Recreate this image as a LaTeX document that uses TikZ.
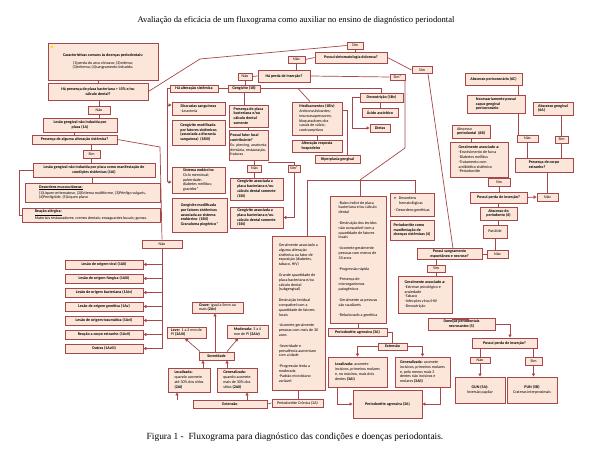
\documentclass[tikz,border=0pt]{standalone}
\usepackage{fontspec}
\usepackage{tikz}
\usetikzlibrary{arrows.meta}
\setmainfont{Liberation Serif}
\newfontfamily\flxfamily{Carlito}
\newcommand{\flxfont}{\flxfamily\fontsize{4}{4.8}\selectfont}
\definecolor{bxline}{HTML}{A5474B}
\definecolor{bxfill}{HTML}{FCE6DA}

\begin{document}
\begin{tikzpicture}[x=1pt,y=1pt,yscale=-1,xscale=1,
  bx/.style={draw=bxline,fill=bxfill,line width=0.9pt,inner sep=1pt,align=center,font=\flxfont},
  bxl/.style={bx,align=left},
  ln/.style={draw=bxline,line width=0.7pt},
  arr/.style={ln,-{Triangle[length=3pt,width=3.2pt]}}]
\path[fill=white,use as bounding box] (0,0) rectangle (592,449);

% Title and caption
\node[font=\fontsize{8.6}{10}\selectfont] (titulo) at (296,20) {Avaliação da eficácia de um fluxograma como auxiliar no ensino de diagnóstico periodontal};
\node[font=\fontsize{9.4}{11}\selectfont] (legenda) at (295,437) {Figura 1 -\ \ Fluxograma para diagnóstico das condições e doenças periodontais.};

% Left column
\node[bx,minimum width=110pt,minimum height=37pt] (car) at (103,61.5) {\textbf{Características comuns às doenças periodontais:}\\[3pt] (1)perda do arco côncavo; (2)edema;\\ (3)eritema; (4)sangramento induzido.};
\fill[yellow!85!orange] (52,47) circle (1.6pt);
\node[bx,minimum width=100pt,minimum height=17pt] (placa) at (98,91.5) {\textbf{Há presença de placa bacteriana > 15\% e/ou}\\ \textbf{cálculo dental?}};
\node[bx,minimum width=22pt,minimum height=8pt] (nao1) at (99,110) {Não};
\node[bx,minimum width=74pt,minimum height=14pt] (lesao1a) at (80,125) {\textbf{Lesão gengival não induzida por}\\ \textbf{placa (1A)}};
\node[bx,minimum width=85pt,minimum height=9pt] (presalt) at (74.5,139.5) {\textbf{Presença de alguma alteração sistêmica?}};
\node[bx,minimum width=17pt,minimum height=8pt] (sim1) at (91.5,154) {Sim};
\node[bx,minimum width=122pt,minimum height=14pt] (lesmanif) at (94,170) {\textbf{Lesão gengival não induzida por placa como manifestação de}\\ \textbf{condições sistêmicas (1Ai)}};
\node[bxl,minimum width=135pt,minimum height=19pt] (desord) at (92.5,192.5) {\underline{\textbf{Desordens mucocutâneas:}}\\ (1)Líquen eritematoso, (2)Eritema multiforme, (3)Pênfigo vulgaris,\\ (4)Penfigóide, (5)Líquen plano};
\node[bxl,minimum width=138pt,minimum height=14pt] (reacao) at (91,215) {\underline{\textbf{Reação alérgica:}}\\ Materiais restauradores; cremes dentais; enxaguantes bucais; gomas.};
\node[bx,minimum width=40pt,minimum height=8pt] (nao2) at (162,244) {Não};
\node[bx,minimum width=78pt,minimum height=9pt] (les1) at (104,264.5) {\textbf{Lesão de origem viral (1Aii)}};
\node[bx,minimum width=78pt,minimum height=9pt] (les2) at (104,278.5) {\textbf{Lesão de origem fúngica (1Aiii)}};
\node[bx,minimum width=78pt,minimum height=9pt] (les3) at (104,292.5) {\textbf{Lesão de origem bacteriana (1Aiv)}};
\node[bx,minimum width=78pt,minimum height=9pt] (les4) at (104,306.5) {\textbf{Lesão de origem genética (1Av)}};
\node[bx,minimum width=78pt,minimum height=9pt] (les5) at (104,320.5) {\textbf{Lesão de origem traumática (1Avi)}};
\node[bx,minimum width=78pt,minimum height=9pt] (les6) at (104,334.5) {\textbf{Reação a corpo estranho (1Avii)}};
\node[bx,minimum width=78pt,minimum height=9pt] (les7) at (104,348.5) {\textbf{Outras (1Aviii)}};

% Top decisions
\node[bx,minimum width=16pt,minimum height=7pt] (simtop) at (355,45.5) {Sim};
\node[bx,minimum width=72pt,minimum height=11pt] (sintom) at (351,57.5) {\textbf{Possui sintomatologia dolorosa?}};
\node[bx,minimum width=17pt,minimum height=7pt] (nao4) at (296.5,59.5) {Não};
\node[bx,minimum width=52pt,minimum height=12pt] (perda1) at (284,76) {\textbf{Há perda de inserção?}};
\node[bx,minimum width=14pt,minimum height=7pt] (nao5) at (245,76.5) {Não};
\node[bx,minimum width=15pt,minimum height=6pt] (simstar) at (397.5,77) {Sim*};
\node[bx,minimum width=20pt,minimum height=7pt] (simr) at (422,70) {Sim};

% Gingivitis column
\node[bx,minimum width=48pt,minimum height=7pt] (haalt) at (194,88.5) {\textbf{Há alteração sistêmica}};
\node[bx,minimum width=32pt,minimum height=7pt] (geng1b) at (244,88.5) {\textbf{Gengivite (1B)}};
\node[bxl,minimum width=53pt,minimum height=13pt] (discr) at (198.5,108.5) {\textbf{Discrasias sanguíneas}\\ -Leucemia};
\node[bxl,minimum width=53pt,minimum height=25pt] (gmod1) at (198.5,132.5) {\textbf{Gengivite modificada}\\ \textbf{por fatores sistêmicos}\\ \textbf{(associada a discrasia}\\ \textbf{sanguínea)\ \ (1Biii)}};
\node[bxl,minimum width=53pt,minimum height=26pt] (sisend) at (198.5,180) {\textbf{Sistema endócrino}\\ Ciclo menstrual;\\ puberdade;\\ diabetes mellitus;\\ gravidez*};
\node[bxl,minimum width=55pt,minimum height=34pt] (gmod2) at (199.5,215) {\textbf{Gengivite modificada}\\ \textbf{por fatores sistêmicos}\\ \textbf{associada ao sistema}\\ \textbf{endócrino\ \ (1Bii)}\\ \textbf{Granuloma piogênico*}};
\node[bxl,minimum width=39pt,minimum height=22pt] (presplaca) at (248.5,116) {\textbf{Presença de placa}\\ \textbf{bacteriana e/ou}\\ \textbf{cálculo dental}\\ \textbf{somente}};
\node[bxl,minimum width=39pt,minimum height=30pt] (fatloc) at (248.5,145) {\textbf{Possui fator local}\\ \textbf{contribuinte?}\\ Ex. piercing, anatomia\\ dentária, restauração,\\ fraturas};
\node[bx,minimum width=14pt,minimum height=7pt] (nao3) at (254.5,168.5) {Não};
\node[bx,minimum width=12pt,minimum height=7pt] (sim3) at (294,168.5) {Sim*};
\node[bxl,minimum width=53pt,minimum height=22pt] (gbia) at (256.5,189) {\textbf{Gengivite associada a}\\ \textbf{placa bacteriana e/ou}\\ \textbf{cálculo dental somente}\\ \textbf{(1Bi)}};
\node[bxl,minimum width=53pt,minimum height=21pt] (gbib) at (256.5,217.5) {\textbf{Gengivite associada a}\\ \textbf{placa bacteriana e/ou}\\ \textbf{cálculo dental somente}\\ \textbf{(1Bi)}};
\node[bxl,minimum width=50pt,minimum height=33pt] (medic) at (317,118.5) {\textbf{Medicamentos (1Biv)}\\ Anticonvulsivantes;\\ imunossupressores;\\ bloqueadores dos\\ canais de cálcio;\\ contraceptivos};
\node[bxl,minimum width=50pt,minimum height=12pt] (altresp) at (317,146) {\textbf{Alteração resposta}\\ \textbf{hospedeiro}};
\node[bx,minimum width=45pt,minimum height=8pt] (hiperp) at (337.5,159) {\textbf{Hiperplasia gengival}};
\node[bx,minimum width=43pt,minimum height=9pt] (desnut) at (381.5,97.5) {\textbf{Desnutrição (1Bv)}};
\node[bx,minimum width=36pt,minimum height=9pt] (acido) at (380,112.5) {\textbf{Ácido ascórbico}};
\node[bx,minimum width=20pt,minimum height=8pt] (dietas) at (380,128) {\textbf{Dietas}};

% Periodontitis
\node[bxl,minimum width=53pt,minimum height=154pt] (chron) at (298.5,313) {Geralmente associado a\\ alguma alteração\\ sistêmica ou fator de\\ exposição (diabetes,\\ tabaco, HIV)\\[6pt] Grande quantidade de\\ placa bacteriana e/ou\\ cálculo dental\\ (subgengival)\\[6pt] Destruição tecidual\\ compatível com a\\ quantidade de fatores\\ locais\\[6pt] -Acomete geralmente\\ pessoas com mais de 30\\ anos\\[6pt] -Severidade e\\ prevalência aumentam\\ com a idade\\[6pt] -Progressão lenta a\\ moderada\\ -Padrão microbiano\\ variável};
\node[bxl,minimum width=56pt,minimum height=127pt] (aggr) at (358,259.5) {-Baixo índice de placa\\ bacteriana e/ou cálculo\\ dental\\[6pt] -Destruição dos tecidos\\ não compatível com a\\ quantidade de fatores\\ locais\\[6pt] -Acomete geralmente\\ pessoas com menos de\\ 30 anos\\[6pt] -Progressão rápida\\[6pt] -Presença de\\ microrganismos\\ patogênicos\\[6pt] -Geralmente as pessoas\\ são saudáveis\\[6pt] -Relacionado a genética};
\node[bxl,minimum width=44pt,minimum height=23pt] (desordh) at (412,204.5) {•\ \ \ Desordens\\ \hspace*{5pt}hematológicas\\[3pt] - Desordens genéticas};
\node[bxl,minimum width=44pt,minimum height=20pt] (perio4) at (412,230) {\textbf{Periodontite como}\\ \textbf{manifestação de}\\ \textbf{doenças sistêmicas (4)}};

% Chronic periodontitis classification
\node[bx,minimum width=51pt,minimum height=8pt] (pcr) at (297.5,403) {Periodontite Crônica (2A)};
\node[bx,minimum width=74pt,minimum height=8pt] (ext1) at (230,404) {\textbf{Extensão}};
\node[bxl,minimum width=42pt,minimum height=24pt] (loc1) at (189,380) {\textbf{Localizada:}\\ quando acomete\\ até 30\% dos sítios\\ \textbf{(2Ai)}};
\node[bxl,minimum width=40pt,minimum height=24pt] (gen1) at (237,380) {\textbf{Generalizada:}\\ quando acomete\\ mais de 30\% dos\\ sítios \textbf{(2Aii)}};
\node[bx,minimum width=35pt,minimum height=8pt] (sev) at (216.5,356) {\textbf{Severidade}};
\node[bxl,minimum width=39pt,minimum height=11pt] (leve) at (186.5,332.5) {\textbf{Leve:}\ \ 1 a 2 mm de\\ PI \textbf{(2Aiii)}};
\node[bxl,minimum width=41pt,minimum height=13pt] (mod) at (247.5,331.5) {\textbf{Moderada:} 3 a 4\\ mm de PI \textbf{(2Aiv)}};
\node[bxl,minimum width=51pt,minimum height=11pt] (grave) at (217.5,307.5) {\textbf{Grave:} igual a 5mm ou\\ mais \textbf{(2Av)}};

% Aggressive periodontitis classification
\node[bx,minimum width=59pt,minimum height=8pt] (pag) at (357.5,332) {\textbf{Periodontite agressiva (3A)}};
\node[bx,minimum width=29pt,minimum height=7pt] (ext2) at (392.5,346.5) {\textbf{Extensão}};
\node[bxl,minimum width=59pt,minimum height=30pt] (loc2) at (357.5,372) {\textbf{Localizada:} acomete\\ incisivos, primeiros molares\\ e, no máximo, mais dois\\ dentes \textbf{(3Ai)}};
\node[bxl,minimum width=55pt,minimum height=30pt] (gen2) at (422.5,372) {\textbf{Generalizada:} acomete\\ incisivos, primeiros molares\\ e, pelo menos mais 3\\ dentes não incisivos e\\ molares \textbf{(3Aii)}};
\node[bx,minimum width=69pt,minimum height=28pt] (pagbig) at (387.5,404) {\textbf{Periodontite agressiva (3A)}};

% Abscesses
\node[bx,minimum width=57pt,minimum height=12pt] (abper) at (493.5,79) {\textbf{Abscesso pericoronário (6C)}};
\node[bxl,minimum width=58pt,minimum height=18pt] (necess) at (496,104) {\textbf{Necessariamente possui}\\ \textbf{capuz gengival}\\ \textbf{pericoronário}};
\node[bxl,minimum width=40pt,minimum height=13pt] (abgeng) at (553,108.5) {\textbf{Abscesso gengival}\\ \textbf{(6A)}};
\node[bx,minimum width=21pt,minimum height=7pt] (nao6) at (527.5,138.5) {Não};
\node[bx,minimum width=13pt,minimum height=7pt] (sim6) at (561.5,139.5) {Sim};
\node[bxl,minimum width=38pt,minimum height=13pt] (abperio) at (471,131.5) {Abscesso\\ \textbf{periodontal\ \ (6B)}};
\node[bxl,minimum width=58pt,minimum height=35pt] (geral6) at (479,159.5) {\textbf{Geralmente associado a:}\\ -Envolvimento de furca\\ -Diabetes mellitus\\ -Tratamento com\\ antibiótico sistêmico\\ -Periodontite};
\node[bxl,minimum width=58pt,minimum height=14pt] (corpo) at (544,165) {\textbf{Presença de corpo}\\ \textbf{estranho?}};
\node[bx,minimum width=22pt,minimum height=8pt] (sim7) at (499,182) {Sim};
\node[bx,minimum width=57pt,minimum height=11pt] (perda2) at (498.5,197.5) {\textbf{Possui perda de inserção?}};
\node[bx,minimum width=21pt,minimum height=8pt] (nao7) at (547.5,197) {Não};
\node[bx,minimum width=37pt,minimum height=13pt] (abperiod) at (498.5,213.5) {\textbf{Abscesso do}\\ \textbf{periodonto (6)}};
\node[bx,minimum width=24pt,minimum height=13pt] (parul) at (495,231.5) {Parúlide};
\node[bx,minimum width=21pt,minimum height=8pt] (nao8) at (497.5,254) {Não};

% Necrotizing diseases
\node[bx,minimum width=65pt,minimum height=10pt] (sangr) at (449.5,254) {\textbf{Possui sangramento}\\ \textbf{espontâneo e necrose?}};
\node[bx,minimum width=18pt,minimum height=7pt] (sim8) at (436,268.5) {Sim};
\node[bxl,minimum width=54pt,minimum height=37pt] (geral5) at (425,294.5) {\textbf{Geralmente associado a:}\\ -Estresse psicológico e\\ ansiedade\\ -Tabaco\\ -Infecções vírus/HIV\\ -Desnutrição};
\node[bx,minimum width=67pt,minimum height=12pt] (necros) at (461.5,324) {\textbf{Doenças periodontais}\\ \textbf{necrosantes (5)}};
\node[bx,minimum width=65pt,minimum height=10pt] (perda3) at (504.5,343) {\textbf{Possui perda de inserção?}};
\node[bx,minimum width=20pt,minimum height=6pt] (nao9) at (480,360) {Não};
\node[bx,minimum width=17pt,minimum height=8pt] (sim9) at (533.5,361) {Sim};
\node[bx,minimum width=50pt,minimum height=26pt] (gun) at (480,390) {\textbf{GUN (5A):}\\ Inversão papilar};
\node[bx,minimum width=50pt,minimum height=26pt] (pun) at (532,390) {\textbf{PUN (5B)}\\ Crateras interproximais};

% Bend points
\coordinate (pb) at (200,59);
\coordinate (pa) at (160,147);
\coordinate (hb1) at (167.5,105);
\coordinate (hb2) at (167.5,182);
\coordinate (gm) at (298,88.5);
\coordinate (sj) at (405,148);
\coordinate (jn) at (360,180);
\coordinate (jl) at (307,180);
\coordinate (jr) at (415,180);

%Straight Lines: left column
\draw[ln] (placa.north |- car.south) -- (placa.north);
\draw[ln] (nao1.north |- placa.south) -- (nao1.north);
\draw[ln] (nao1.south) -- (nao1.south |- lesao1a.north);
\draw[ln] (presalt.north |- lesao1a.south) -- (presalt.north);
\draw[ln] (sim1.north |- presalt.south) -- (sim1.north);
\draw[ln] (sim1.south) -- (sim1.south |- lesmanif.north);
\draw[ln] (desord.north |- lesmanif.south) -- (desord.north);
\draw[ln] (lesmanif.west) -- ++(-13,0) |- (reacao.west);
\draw[ln] (presalt.east) -- (pa) -- (nao2.north);
\draw[ln] (nao2.south) -- (nao2.south |- les7.east);
\draw[arr] (nao2.south |- les1.east) -- (les1.east);
\draw[arr] (nao2.south |- les2.east) -- (les2.east);
\draw[arr] (nao2.south |- les3.east) -- (les3.east);
\draw[arr] (nao2.south |- les4.east) -- (les4.east);
\draw[arr] (nao2.south |- les5.east) -- (les5.east);
\draw[arr] (nao2.south |- les6.east) -- (les6.east);
\draw[arr] (nao2.south |- les7.east) -- (les7.east);

%Straight Lines: top decisions
\draw[ln] (placa.east) -- (pb) -- (simtop.west);
\draw[ln] (simtop.south) -- (simtop.south |- sintom.north);
\draw[ln] (sintom.west) -- (nao4.east);
\draw[ln] (sintom.east) -- (simr.west);
\draw[ln] (nao4.south) -- (nao4.south |- perda1.north);
\draw[ln] (perda1.west) -- (nao5.east);
\draw[ln] (perda1.east) -- (simstar.west);
\draw[ln] (nao5.south) -- (nao5.south |- geng1b.north);

%Straight Lines: gingivitis
\draw[ln] (geng1b.west) -- (haalt.east);
\draw[ln] (haalt.west) -| (hb2);
\draw[arr] (hb1) -- (hb1 -| discr.west);
\draw[arr] (hb2) -- (hb2 -| sisend.west);
\draw[ln] (geng1b.south) -- (geng1b.south |- presplaca.north);
\draw[ln] (presplaca.south) -- (fatloc.north);
\draw[ln] (nao3.north |- fatloc.south) -- (nao3.north);
\draw[ln] (nao3.south) -- (nao3.south |- gbia.north);
\draw[ln] ([yshift=2pt]fatloc.south east) -| (sim3.north);
\draw[arr] (sim3.south) |- (gbib.east);
\draw[ln] (geng1b.east) -| (desnut.north);
\draw[ln] (gm) -- ([xshift=-7pt]medic.north);
\draw[ln] (medic.south) -- (altresp.north);
\draw[ln] ([yshift=-8.5pt]medic.east) -| ([xshift=9.5pt]hiperp.north);
\draw[ln] (acido.north |- desnut.south) -- (acido.north);
\draw[arr] (desnut.west) -- ++(-7,0) |- (dietas.west);

%Straight Lines: periodontitis
\draw[ln] ([xshift=7.5pt]simstar.south) -- (sj) -- (jn);
\draw[ln] (jl) -- (jr);
\draw[ln] (jl) -- (jl |- chron.north);
\draw[ln] (jn) -- (jn |- aggr.north);
\draw[ln] (jr) -- (jr |- desordh.north);
\draw[ln] (chron.south) -- (chron.south |- pcr.north);
\draw[ln] (pcr.west) -- (ext1.east);
\draw[arr] ([xshift=-53pt]ext1.north) -- ([xshift=-12pt]loc1.south);
\draw[arr] ([xshift=17pt]ext1.north) -- ([xshift=10pt]gen1.south);
\draw[arr] ([xshift=14pt]loc1.north) -- ([xshift=-13.5pt]sev.south);
\draw[arr] ([xshift=-10pt]gen1.north) -- ([xshift=10.5pt]sev.south);
\draw[arr] ([xshift=-16.5pt]sev.north) -- ([xshift=-1.5pt]leve.south);
\draw[arr] ([xshift=-1.5pt]sev.north) -- ([xshift=-2.5pt]grave.south);
\draw[arr] ([xshift=10.5pt]sev.north) -- ([xshift=-9.5pt]mod.south);
\draw[ln] (aggr.south) -- (aggr.south |- pag.north);
\draw[ln] (pag.east) -| (ext2.north);
\draw[arr] (ext2.west) -| (loc2.north);
\draw[arr] (ext2.east) -| (gen2.north);
\draw[arr] ([xshift=10pt]loc2.south west) |- (pagbig.west);
\draw[arr] ([xshift=-10pt]gen2.south east) |- (pagbig.east);

%Straight Lines: abscesses
\draw[ln] ([xshift=24.5pt]abper.south) -- ([xshift=22pt]necess.north);
\draw[ln] ([xshift=22pt]necess.south) -- ([xshift=-9.5pt]nao6.north);
\draw[ln] (sim6.north |- abgeng.south) -- (sim6.north);
\draw[ln] (nao6.south) -- (nao6.south |- corpo.north);
\draw[ln] (sim6.south) -- (sim6.south |- corpo.north);
\draw[ln] (abperio.south) -- (abperio.south |- geral6.north);
\draw[ln] (sim7.north |- geral6.south) -- (sim7.north);
\draw[ln] (sim7.south) -- (sim7.south |- perda2.north);
\draw[ln] (nao7.north |- corpo.south) -- (nao7.north);
\draw[arr] (perda2.east) -- (nao7.west);
\draw[ln] (perda2.south) -- (abperiod.north);
\draw[ln] (abperiod.south) -- (abperiod.south |- parul.north);
\draw[ln] (parul.south) -- (parul.south |- nao8.north);
\draw[ln] (nao8.west) -- (sangr.east);

%Straight Lines: necrotizing
\draw[ln] ([xshift=6pt]simr.south) -- ([xshift=3.5pt]sangr.north);
\draw[ln] (sim8.north |- sangr.south) -- (sim8.north);
\draw[ln] (sim8.south) -- (sim8.south |- geral5.north);
\draw[arr] ([yshift=6pt]geral5.south east) -| ([xshift=6.5pt]necros.north);
\draw[arr] (necros.east) -| ([xshift=5.5pt]perda3.north);
\draw[ln] (nao9.north |- perda3.south) -- (nao9.north);
\draw[ln] (sim9.north |- perda3.south) -- (sim9.north);
\draw[arr] (nao9.south) -- (nao9.south |- gun.north);
\draw[arr] (sim9.south) -- (sim9.south |- pun.north);

\end{tikzpicture}
\end{document}
